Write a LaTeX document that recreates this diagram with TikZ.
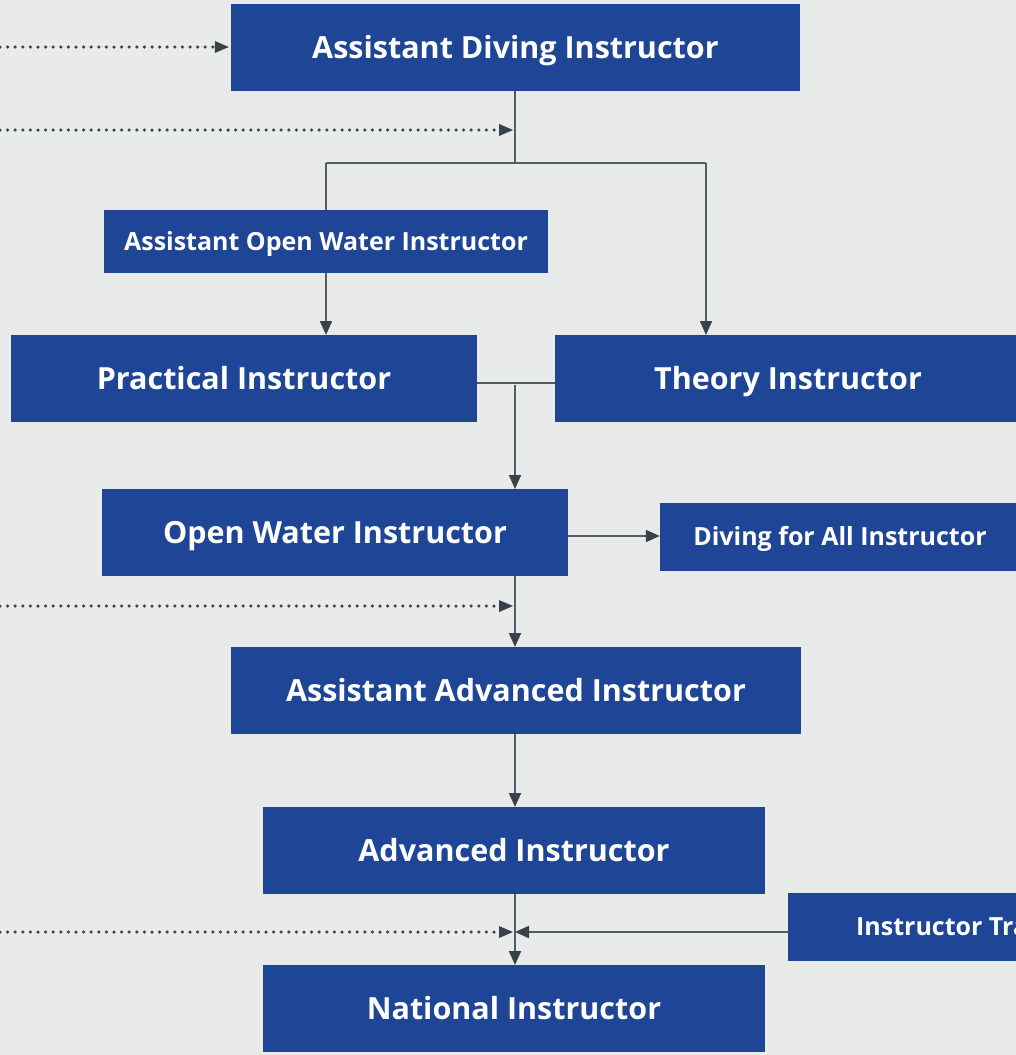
\documentclass[tikz,border=0pt]{standalone}
\usepackage{fontspec}
\setmainfont{Open Sans}
\usetikzlibrary{arrows.meta}
\definecolor{bg}{HTML}{E9EBEA}
\definecolor{boxblue}{HTML}{1E4596}
\definecolor{ln}{HTML}{535D63}
\definecolor{tipc}{HTML}{37424A}
\begin{document}
\begin{tikzpicture}[x=1pt,y=-1pt,
  box/.style={fill=boxblue, text=white, inner sep=0pt, font=\fontsize{30.5}{34}\selectfont\bfseries,
    text height=21.8pt, text depth=0pt},
  sbox/.style={box, font=\fontsize{25}{29}\selectfont\bfseries, text height=17.9pt},
  link/.style={draw=ln, line width=2pt},
  arr/.style={link, -{Triangle[length=14pt,width=12pt,color=tipc]}},
  dotarr/.style={draw=tipc, line width=3.5pt, line cap=round, dash pattern=on 0pt off 7.6pt,
    -{Triangle[length=14pt,width=12pt,color=tipc,line cap=butt,line width=0pt,sep=2pt]}}]
\useasboundingbox (0,0) rectangle (1016,1055);
\clip (0,0) rectangle (1016,1055);
\fill[bg] (0,0) rectangle (1016,1055);

\node[box, minimum width=569pt, minimum height=87pt] (adi) at (515.5,47.5) {Assistant Diving Instructor};
\node[sbox, minimum width=444pt, minimum height=63pt] (aowi) at (326,241.5) {Assistant Open Water Instructor};
\node[box, minimum width=466pt, minimum height=87pt] (pi) at (244,378.5) {Practical Instructor};
\node[box, minimum width=466pt, minimum height=87pt] (ti) at (788,378.5) {Theory Instructor};
\node[box, minimum width=466pt, minimum height=87pt] (owi) at (335,532.5) {Open Water Instructor};
\node[sbox, minimum width=360pt, minimum height=68pt] (dfa) at (840,537) {Diving for All Instructor};
\node[box, minimum width=570pt, minimum height=87pt] (aai) at (516,690.5) {Assistant Advanced Instructor};
\node[box, minimum width=502pt, minimum height=87pt] (ai) at (514,850.5) {Advanced Instructor};
\node[box, minimum width=502pt, minimum height=87pt] (ni) at (514,1008.5) {National Instructor};
\node[sbox, inner xsep=68pt, minimum height=68pt, anchor=west] (it) at (788,927) {Instructor Trainer};

% coordinates
\coordinate (in1) at (0,47);
\coordinate (in2) at (0,130);
\coordinate (m2) at (515,130);
\coordinate (j1) at (515,163);
\coordinate (j1l) at (326,163);
\coordinate (j1r) at (706,163);
\coordinate (tit) at (706,335);
\coordinate (pit) at (326,335);
\coordinate (pr) at (477,383);
\coordinate (tl) at (555,383);
\coordinate (j2) at (515,385);
\coordinate (owt) at (515,489);
\coordinate (owr) at (568,536);
\coordinate (owb) at (515,576);
\coordinate (in3) at (0,606);
\coordinate (m3) at (515,606);
\coordinate (aat) at (515,647);
\coordinate (aab) at (515,734);
\coordinate (at) at (515,807);
\coordinate (ab) at (515,894);
\coordinate (nt) at (515,965);
\coordinate (in4) at (0,932);
\coordinate (m4) at (515,932);
\coordinate (itl) at (788,932);

% connectors
\draw[dotarr] (in1) -- (adi.west |- in1);
\draw[link] (adi.south -| j1) -- (j1);
\draw[dotarr] (in2) -- (m2);
\draw[link] (j1l) -- (j1r);
\draw[link] (j1l) -- (aowi.north -| j1l);
\draw[arr] (j1r) -- (tit);
\draw[arr] (aowi.south) -- (pit);
\draw[link] (pr) -- (tl);
\draw[arr] (j2) -- (owt);
\draw[arr] (owr) -- (dfa.west |- owr);
\draw[arr] (owb) -- (aat);
\draw[dotarr] (in3) -- (m3);
\draw[arr] (aab) -- (at);
\draw[arr] (ab) -- (nt);
\draw[dotarr] (in4) -- (m4);
\draw[arr] (itl) -- (m4);
\end{tikzpicture}
\end{document}
